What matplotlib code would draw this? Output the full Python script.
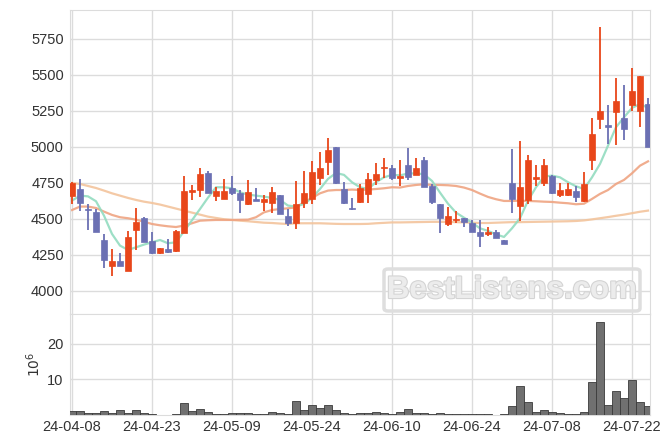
import numpy as np
import matplotlib.pyplot as plt
import matplotlib.patheffects as pe
from matplotlib.patches import Rectangle, FancyBboxPatch

# trading days (Korean market), 24-04-08 .. 24-07-24
dates = [
    "24-04-08", "24-04-09", "24-04-11", "24-04-12", "24-04-15", "24-04-16", "24-04-17", "24-04-18",
    "24-04-19", "24-04-22", "24-04-23", "24-04-24", "24-04-25", "24-04-26", "24-04-29", "24-04-30",
    "24-05-02", "24-05-03", "24-05-07", "24-05-08", "24-05-09", "24-05-10", "24-05-13", "24-05-14",
    "24-05-16", "24-05-17", "24-05-20", "24-05-21", "24-05-22", "24-05-23", "24-05-24", "24-05-27",
    "24-05-28", "24-05-29", "24-05-30", "24-05-31", "24-06-03", "24-06-04", "24-06-05", "24-06-07",
    "24-06-10", "24-06-11", "24-06-12", "24-06-13", "24-06-14", "24-06-17", "24-06-18", "24-06-19",
    "24-06-20", "24-06-21", "24-06-24", "24-06-25", "24-06-26", "24-06-27", "24-06-28", "24-07-01",
    "24-07-02", "24-07-03", "24-07-04", "24-07-05", "24-07-08", "24-07-09", "24-07-10", "24-07-11",
    "24-07-12", "24-07-15", "24-07-16", "24-07-17", "24-07-18", "24-07-19", "24-07-22", "24-07-23",
    "24-07-24",
]

opens = [4657, 4711, 4572, 4551, 4354, 4171, 4211, 4137, 4426, 4507,
         4350, 4264, 4292, 4280, 4400, 4685, 4699, 4819, 4657, 4637,
         4715, 4683, 4602, 4639, 4616, 4609, 4667, 4523, 4472, 4609,
         4637, 4782, 4894, 5002, 4708, 4579, 4616, 4674, 4773, 4852,
         4854, 4787, 4875, 4803, 4910, 4729, 4602, 4463, 4493, 4505,
         4474, 4407, 4394, 4407, 4354, 4752, 4588, 4634, 4775, 4748,
         4801, 4669, 4669, 4697, 4623, 4907, 5192, 5153, 5241, 5204,
         5289, 5248, 5301]
highs = [4755, 4775, 4604, 4569, 4396, 4289, 4264, 4417, 4576, 4516,
         4412, 4299, 4361, 4420, 4801, 4736, 4854, 4831, 4720, 4778,
         4799, 4699, 4771, 4715, 4667, 4720, 4667, 4569, 4762, 4831,
         4905, 4963, 5062, 5002, 4755, 4646, 4743, 4819, 4887, 4921,
         4875, 4907, 4995, 4921, 4933, 4741, 4602, 4581, 4553, 4505,
         4491, 4495, 4444, 4421, 4354, 4984, 5044, 4944, 4875, 4919,
         4808, 4750, 4750, 4727, 4829, 5201, 5836, 5292, 5479, 5431,
         5549, 5495, 5340]
lows = [4604, 4553, 4424, 4407, 4160, 4104, 4171, 4137, 4285, 4338,
        4255, 4257, 4261, 4270, 4400, 4632, 4650, 4678, 4627, 4637,
        4669, 4542, 4597, 4623, 4558, 4542, 4532, 4451, 4430, 4576,
        4604, 4736, 4808, 4743, 4604, 4562, 4611, 4611, 4736, 4782,
        4771, 4729, 4768, 4803, 4725, 4602, 4400, 4451, 4474, 4442,
        4412, 4303, 4384, 4370, 4324, 4544, 4488, 4604, 4731, 4731,
        4674, 4650, 4657, 4620, 4616, 4840, 5125, 5021, 5014, 5049,
        5248, 5137, 4998]
closes = [4750, 4609, 4560, 4407, 4215, 4211, 4171, 4375, 4481, 4338,
          4264, 4299, 4268, 4417, 4697, 4704, 4815, 4678, 4692, 4697,
          4678, 4630, 4690, 4623, 4641, 4690, 4532, 4470, 4604, 4683,
          4826, 4854, 4981, 4752, 4611, 4572, 4715, 4778, 4812, 4861,
          4782, 4799, 4794, 4852, 4725, 4618, 4509, 4518, 4500, 4481,
          4412, 4384, 4410, 4370, 4324, 4637, 4720, 4912, 4789, 4877,
          4678, 4704, 4711, 4650, 4745, 5090, 5252, 5137, 5322, 5123,
          5391, 5495, 4998]

# moving averages as drawn on the chart
ma5 = [4627, 4662, 4657, 4623, 4523, 4396, 4315, 4285, 4303, 4322,
       4338, 4354, 4331, 4338, 4414, 4491, 4569, 4648, 4720, 4720,
       4713, 4685, 4669, 4662, 4655, 4646, 4632, 4593, 4586, 4604,
       4646, 4708, 4778, 4819, 4806, 4755, 4720, 4708, 4755, 4789,
       4806, 4803, 4815, 4817, 4810, 4764, 4683, 4606, 4544, 4509,
       4474, 4435, 4417, 4393, 4375, 4435, 4505, 4627, 4720, 4794,
       4801, 4789, 4755, 4727, 4708, 4789, 4882, 5009, 5137, 5206,
       5271, 5299, 5271]
ma20 = [4562, 4586, 4586, 4576, 4551, 4528, 4512, 4505, 4495, 4481,
        4465, 4456, 4449, 4444, 4454, 4470, 4488, 4491, 4493, 4493,
        4493, 4494, 4495, 4512, 4546, 4562, 4569, 4574, 4581, 4616,
        4646, 4678, 4697, 4701, 4701, 4704, 4701, 4704, 4708, 4713,
        4720, 4718, 4729, 4736, 4741, 4736, 4736, 4734, 4729, 4718,
        4701, 4676, 4653, 4637, 4625, 4625, 4627, 4625, 4623, 4620,
        4618, 4613, 4609, 4602, 4606, 4639, 4674, 4701, 4743, 4771,
        4817, 4870, 4900]
ma60 = [4750, 4743, 4729, 4715, 4697, 4678, 4662, 4646, 4632, 4620,
        4611, 4600, 4586, 4572, 4558, 4544, 4530, 4516, 4507, 4498,
        4493, 4488, 4484, 4479, 4474, 4472, 4468, 4465, 4470, 4470,
        4470, 4470, 4468, 4466, 4465, 4465, 4465, 4466, 4470, 4473,
        4476, 4476, 4477, 4478, 4479, 4480, 4480, 4479, 4478, 4476,
        4474, 4472, 4472, 4474, 4476, 4478, 4478, 4479, 4480, 4481,
        4482, 4483, 4484, 4486, 4490, 4497, 4505, 4513, 4522, 4530,
        4540, 4550, 4558]

# volume in millions
volume = [1.1, 1.1, 0.5, 0.5, 1.1, 0.6, 1.4, 0.6, 1.4, 0.6,
          0.3, 0.05, 0.05, 0.3, 3.4, 1.1, 1.7, 0.8, 0.3, 0.3,
          0.5, 0.5, 0.5, 0.3, 0.3, 0.8, 0.6, 0.3, 4.0, 1.4,
          2.8, 2.0, 2.8, 1.4, 0.6, 0.3, 0.5, 0.5, 0.8, 0.6,
          0.3, 0.8, 1.7, 0.5, 0.5, 0.3, 0.5, 0.3, 0.3, 0.3,
          0.3, 0.3, 0.2, 0.05, 0.3, 2.6, 8.2, 3.7, 0.8, 1.4,
          0.8, 0.6, 0.3, 0.3, 0.8, 9.3, 26.0, 2.8, 6.8, 4.8,
          9.9, 3.7, 2.5]

UP = "#e8461a"
DOWN = "#6b70b3"
GRID = "#dcdcdc"
TXT = "#333333"

plt.rcParams['font.family'] = ['Liberation Sans', 'DejaVu Sans']

fig = plt.figure(figsize=(6.71, 4.44), dpi=100)
ax = fig.add_axes([70 / 671, 1 - 314 / 444, 580 / 671, 304 / 444])
axv = fig.add_axes([70 / 671, 1 - 415 / 444, 580 / 671, 101 / 444], sharex=ax)

x = np.arange(len(dates))
o = np.array(opens); c = np.array(closes)
h = np.array(highs); l = np.array(lows)

ax.plot(x, ma60, color="#f3c49c", lw=1.6, alpha=0.9, zorder=2)
ax.plot(x, ma20, color="#efa482", lw=1.6, alpha=0.9, zorder=2)
ax.plot(x, ma5, color="#93dcc0", lw=1.6, alpha=0.9, zorder=2)

for i in x:
    col = UP if c[i] >= o[i] else DOWN
    ax.vlines(i, l[i], h[i], color=col, lw=1.3, zorder=3)
    bot = min(o[i], c[i])
    hgt = max(abs(c[i] - o[i]), 6)
    ax.add_patch(Rectangle((i - 0.36, bot), 0.72, hgt, facecolor=col,
                           edgecolor=col, lw=0.5, zorder=4))

ax.set_xlim(-0.25, 72.25)
ax.set_ylim(3840, 5951)
ax.set_yticks([4000, 4250, 4500, 4750, 5000, 5250, 5500, 5750])
ax.grid(True, color=GRID, lw=1)
ax.set_axisbelow(True)
ax.tick_params(axis="x", labelbottom=False, length=0)
ax.tick_params(axis="y", length=0, labelsize=10.5, colors=TXT, pad=4.5)

axv.bar(x, volume, width=1.0, color="#707070", edgecolor="#3a3a3a", lw=0.6, zorder=3)
axv.set_ylim(0, 28.3)
axv.set_yticks([10, 20])
axv.grid(True, color=GRID, lw=1)
axv.set_axisbelow(True)
axv.set_ylabel(r"$10^6$", color=TXT, fontsize=10, labelpad=3)
ticks = list(range(0, len(dates), 10))
axv.set_xticks(ticks)
axv.set_xticklabels([dates[t] for t in ticks])
axv.tick_params(axis="both", length=0, labelsize=10.5, colors=TXT)
axv.tick_params(axis="y", pad=4.5)

for a in (ax, axv):
    for s in a.spines.values():
        s.set_color(GRID)

# watermark
fig.patches.append(FancyBboxPatch((384 / 671, 1 - 311 / 444), 256 / 671, 42 / 444,
                                  boxstyle="round,pad=0,rounding_size=0.006",
                                  transform=fig.transFigure, facecolor="none",
                                  edgecolor="#dedede", lw=2.5, zorder=10))
fig.text(512 / 671, 1 - 290 / 444, "BestListens.com", ha="center", va="center",
         fontsize=22.5, fontweight="bold", color="#ececec", zorder=11,
         path_effects=[pe.withStroke(linewidth=1.6, foreground="#d4d4d4")])

fig.savefig("out.png", dpi=100)
